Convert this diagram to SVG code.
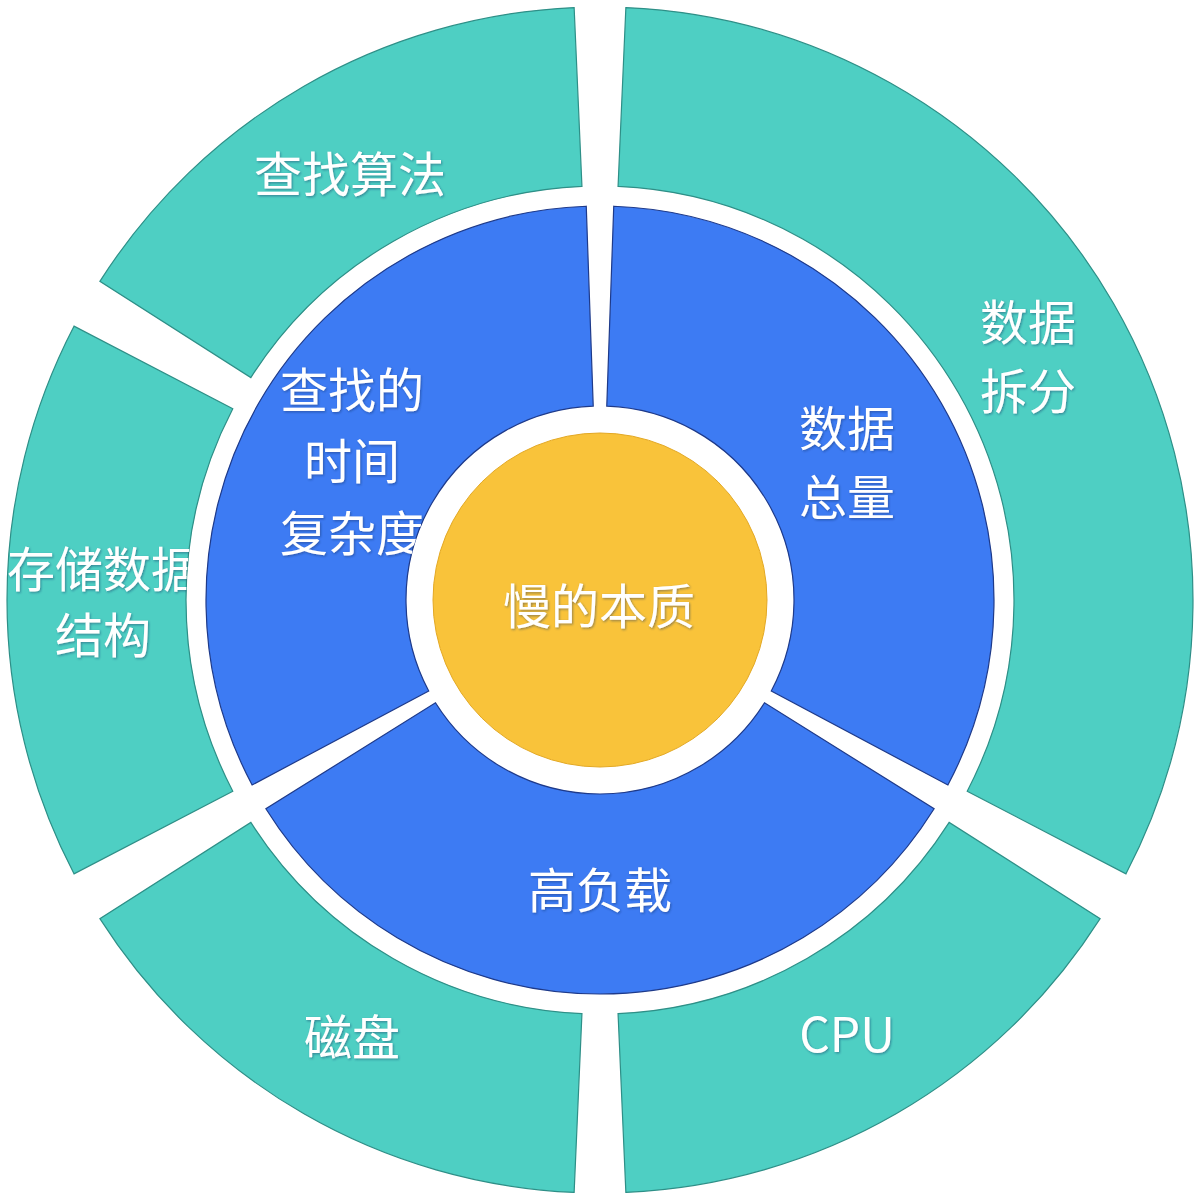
<svg xmlns="http://www.w3.org/2000/svg" xmlns:xlink="http://www.w3.org/1999/xlink" width="1200" height="1202" viewBox="0 0 1200 1202">
  <style>
    .teal { fill: #4ECFC3; stroke: #2E8F87; stroke-width: 1.2; }
    .blue { fill: #3D7BF3; stroke: #1E3A8A; stroke-width: 1.2; }
    .core { fill: #F9C33A; stroke: #E3A823; stroke-width: 1; }
    .lbl { font-family: "Noto Sans CJK SC", "Noto Sans", sans-serif; font-size: 48px; fill: #FFFFFF; text-anchor: middle; filter: url(#sh); }
  </style>
  <defs>
    <filter id="sh" x="-10%" y="-10%" width="120%" height="130%">
      <feDropShadow dx="1" dy="1.2" stdDeviation="0.8" flood-color="#1B2F5E" flood-opacity="0.45"/>
    </filter>
    <path id="p-sfzf" d="M99.87,281.38 A593,593 0 0,1 574.13,7.56 L581.94,186.39 A414,414 0 0,0 250.84,377.56 Z"/>
    <path id="p-ccsj" d="M74.01,873.82 A593,593 0 0,1 74.01,326.18 L232.78,408.84 A414,414 0 0,0 232.78,791.16 Z"/>
    <path id="p-cp" d="M574.13,1192.44 A593,593 0 0,1 99.87,918.62 L250.84,822.44 A414,414 0 0,0 581.94,1013.61 Z"/>
    <path id="p-cpu" d="M1100.13,918.62 A593,593 0 0,1 625.87,1192.44 L618.06,1013.61 A414,414 0 0,0 949.16,822.44 Z"/>
    <path id="p-sjcf" d="M625.87,7.56 A593,593 0 0,1 1125.99,873.82 L967.22,791.16 A414,414 0 0,0 618.06,186.39 Z"/>
    <path id="p-sjzl" d="M613.75,206.24 A394,394 0 0,1 947.88,784.97 L771.29,691.08 A194,194 0 0,0 606.77,406.12 Z"/>
    <path id="p-gfz" d="M934.13,808.79 A394,394 0 0,1 265.87,808.79 L435.48,702.80 A194,194 0 0,0 764.52,702.80 Z"/>
    <path id="p-czsj" d="M252.12,784.97 A394,394 0 0,1 586.25,206.24 L593.23,406.12 A194,194 0 0,0 428.71,691.08 Z"/>
    <clipPath id="c-ccsj"><use xlink:href="#p-ccsj"/></clipPath>
    <clipPath id="c-czsj"><use xlink:href="#p-czsj"/></clipPath>
  </defs>
  <rect x="0" y="0" width="1200" height="1202" fill="#FFFFFF"/>

  <g id="node-search-algorithm">
    <use xlink:href="#p-sfzf" class="teal"/>
    <text class="lbl" x="350" y="192">查找算法</text>
  </g>
  <g id="node-storage-structure">
    <use xlink:href="#p-ccsj" class="teal"/>
    <g clip-path="url(#c-ccsj)">
      <text class="lbl" x="103" y="587">存储数据</text>
      <text class="lbl" x="103" y="653">结构</text>
    </g>
  </g>
  <g id="node-disk">
    <use xlink:href="#p-cp" class="teal"/>
    <text class="lbl" x="352" y="1055">磁盘</text>
  </g>
  <g id="node-cpu">
    <use xlink:href="#p-cpu" class="teal"/>
    <text class="lbl" x="847" y="1052">CPU</text>
  </g>
  <g id="node-data-split">
    <use xlink:href="#p-sjcf" class="teal"/>
    <text class="lbl" x="1028" y="340">数据</text>
    <text class="lbl" x="1028" y="409">拆分</text>
  </g>

  <g id="node-data-volume">
    <use xlink:href="#p-sjzl" class="blue"/>
    <text class="lbl" x="847" y="446">数据</text>
    <text class="lbl" x="847" y="515">总量</text>
  </g>
  <g id="node-high-load">
    <use xlink:href="#p-gfz" class="blue"/>
    <text class="lbl" x="600" y="908">高负载</text>
  </g>
  <g id="node-time-complexity">
    <use xlink:href="#p-czsj" class="blue"/>
    <g clip-path="url(#c-czsj)">
      <text class="lbl" x="352" y="408">查找的</text>
      <text class="lbl" x="352" y="479">时间</text>
      <text class="lbl" x="352" y="551">复杂度</text>
    </g>
  </g>

  <g id="node-core">
    <circle cx="600" cy="600" r="167" class="core"/>
    <text class="lbl" x="599" y="624">慢的本质</text>
  </g>
</svg>
